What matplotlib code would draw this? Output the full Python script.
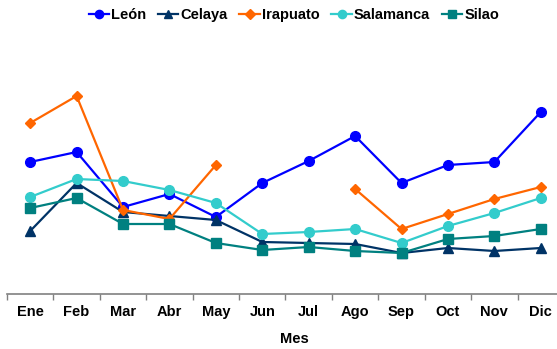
import numpy as np
import matplotlib.pyplot as plt
from matplotlib.ticker import FixedLocator

plt.rcParams['font.family'] = ['Liberation Sans', 'DejaVu Sans']

meses = ["Ene", "Feb", "Mar", "Abr", "May", "Jun", "Jul", "Ago", "Sep", "Oct", "Nov", "Dic"]
leon = [132, 142, 87, 100, 77, 111, 133, 158, 111, 129, 132, 182]
celaya = [63, 111, 82, 78, 74, 52, 51, 50, 41, 46, 43, 46]
irapuato = [171, 198, 84, 75, 129, np.nan, np.nan, 105, 65, 80, 95, 107]
salamanca = [97, 115, 113, 104, 91, 60, 62, 65, 51, 68, 81, 96]
silao = [86, 96, 70, 70, 51, 44, 47, 43, 41, 55, 58, 65]

series = [
    ("León", leon, "#0000FF", "o", 7),
    ("Celaya", celaya, "#003366", "^", 7),
    ("Irapuato", irapuato, "#FF6600", "D", 5.5),
    ("Salamanca", salamanca, "#33CCCC", "o", 7),
    ("Silao", silao, "#008080", "s", 6.5),
]

fig = plt.figure(figsize=(5.57, 3.49), dpi=100)
ax = fig.add_axes([7/557, 55/349, 557/557, 264/349])

x = np.arange(len(meses))
for nombre, vals, color, mk, ms in series:
    ax.plot(x, vals, color=color, marker=mk, markersize=ms, linewidth=1.6,
            label=nombre, clip_on=False)

ax.set_xlim(-0.5, 11.5)
ax.set_ylim(0, 264)

for s in ["top", "right", "left"]:
    ax.spines[s].set_visible(False)
ax.spines["bottom"].set_color("#808080")
ax.spines["bottom"].set_linewidth(1.2)
ax.set_yticks([])

ax.xaxis.set_major_locator(FixedLocator(x))
ax.xaxis.set_minor_locator(FixedLocator(np.arange(-0.5, 12, 1)))
ax.set_xticklabels(meses, fontsize=10.5, fontweight="bold")
ax.tick_params(axis="x", which="major", length=0, pad=8)
ax.tick_params(axis="x", which="minor", length=4, width=1, color="#808080", direction="out")
ax.set_xlabel("Mes", fontsize=10.5, fontweight="bold")
ax.xaxis.set_label_coords((294 - 7) / 557, -0.145)

leg = fig.legend(loc="center", bbox_to_anchor=(294/557, 1 - 15/349), ncol=5,
                 frameon=False, handlelength=1.4, handletextpad=0.15, columnspacing=0.8,
                 prop={"weight": "bold", "size": 10.5}, markerscale=0.85)

fig.savefig("out.png", dpi=100)
